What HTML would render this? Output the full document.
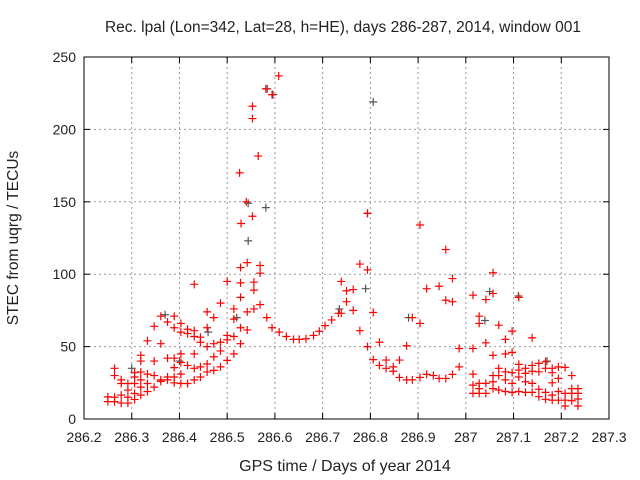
<!DOCTYPE html>
<html><head><meta charset="utf-8"><style>
body{margin:0;background:#fff;}
svg{display:block;font-family:"Liberation Sans",sans-serif;}
</style></head><body>
<svg id="chart" width="640" height="480" viewBox="0 0 640 480">
<rect width="640" height="480" fill="#fff"/>
<text x="343" y="32" font-size="15.5" text-anchor="middle" fill="#222">Rec. lpal (Lon=342, Lat=28, h=HE), days 286-287, 2014, window 001</text>
<g id="grid"></g>
<g id="ticks"></g>
<g id="gray"></g>
<g id="red"></g>
<rect x="84" y="57" width="525" height="362" fill="none" stroke="#000" stroke-width="1"/>
<text x="345" y="471" font-size="16" text-anchor="middle" fill="#222">GPS time / Days of year 2014</text>
<text transform="translate(18,238) rotate(-90)" font-size="15.5" text-anchor="middle" fill="#222">STEC from uqrg / TECUs</text>
</svg>
<script>
const xTicks=[286.2,286.3,286.4,286.5,286.6,286.7,286.8,286.9,287,287.1,287.2,287.3];
const xTickLabels=["286.2","286.3","286.4","286.5","286.6","286.7","286.8","286.9","287","287.1","287.2","287.3"];
const yTicks=[0,50,100,150,200,250];
const yTickLabels=["0","50","100","150","200","250"];
const grayX=[286.806,286.794,286.596,286.584,286.544,286.581,286.544,286.52,286.79,287.05,287.11,286.3,286.37,286.735,286.88,287.17,287.04,286.46,286.4];
const grayY=[219,142,224,228,149,146,123,70,90,88,85,35,72,76,70,40,68,60,40];
const redX=[286.25,286.25,286.264,286.264,286.278,286.278,286.264,286.264,286.278,286.278,286.292,286.292,286.292,286.292,286.306,286.306,286.306,286.306,286.306,286.319,286.319,286.319,286.319,286.319,286.319,286.333,286.333,286.333,286.333,286.347,286.347,286.347,286.347,286.361,286.361,286.361,286.361,286.375,286.375,286.375,286.375,286.389,286.389,286.389,286.389,286.389,286.389,286.403,286.403,286.403,286.403,286.403,286.403,286.417,286.417,286.417,286.417,286.431,286.431,286.431,286.431,286.431,286.431,286.444,286.444,286.444,286.444,286.458,286.458,286.458,286.458,286.458,286.472,286.472,286.472,286.472,286.486,286.486,286.486,286.486,286.5,286.5,286.5,286.5,286.514,286.514,286.514,286.514,286.528,286.528,286.528,286.528,286.528,286.542,286.542,286.542,286.556,286.556,286.556,286.569,286.569,286.569,286.583,286.594,286.609,286.624,286.639,286.651,286.665,286.681,286.693,286.705,286.719,286.733,286.608,286.581,286.594,286.553,286.553,286.565,286.526,286.54,286.553,286.529,
286.794,286.904,286.958,286.778,286.794,286.739,286.75,286.764,286.75,286.739,286.764,286.806,286.778,286.794,286.806,286.819,286.819,286.833,286.833,286.848,286.848,286.861,286.861,286.876,286.876,286.888,286.888,286.904,286.904,286.918,286.918,286.932,286.944,286.944,286.958,286.958,286.972,286.972,286.972,286.986,286.986,287.015,287.015,287.015,287.015,287.015,287.028,287.028,287.028,287.028,287.028,287.042,287.042,287.042,287.042,287.057,287.057,287.057,287.057,287.057,287.057,287.069,287.069,287.069,287.069,287.083,287.083,287.083,287.083,287.083,287.097,287.097,287.097,287.097,287.097,287.111,287.111,287.111,287.111,287.111,287.125,287.125,287.125,287.125,287.139,287.139,287.139,287.139,287.139,287.153,287.153,287.153,287.153,287.167,287.167,287.167,287.167,287.181,287.181,287.181,287.181,287.181,287.194,287.194,287.194,287.194,287.208,287.208,287.208,287.208,287.222,287.222,287.222,287.222,287.235,287.235,287.235,287.235];
const redY=[15.3,12,15,12,16.5,11,35,30,27,24.5,24.5,20,15,11,32,29,24.5,17.6,13.5,44,40,32.5,27,22,16.5,54,31,24.5,19,64,40,30,22,71,52,27,26,67,42,29,27,71,63,42,35.5,29,25,66,60,45,39,31,24.5,62,59,37,24.5,93,61,57,45,35,27,56.5,53,36,29,74,63,50,38,32.5,70,52,43,33.6,80,53,47,36,95,57.7,54.7,40.5,76,69,57,45,104.6,94,84,63,52,108,74,61.5,94.5,89,76,106,100.7,79,70,63,60,57,55,55,55.4,57.7,60.6,64.5,68.4,73,237,228,224,216,207.5,181.6,170,150,140,135,
142,134,117,107,103,95,88.5,89.4,81,73,75,73.6,61,50,41,53,37,40.7,35,36,33,40.7,28.7,50.6,27,70,27,66,28.7,90,30.8,30,91.7,28,82,28,97,81,30.8,48.7,36,85.5,48.7,31,23.4,17.7,71,66,24.6,21,17.7,82.5,52.6,24.6,17.7,101,86.7,44,30,25.7,21,64.8,35,30,20,55,45,32.6,27,19,60.7,46,32,24.6,18.4,84,37.7,33.8,29,19,35,31.5,25.7,18.4,56,37,33,24.6,18.4,38.4,32.6,20.5,15.4,39.5,35,18.4,13.6,35,32,25,16.5,13,36,28,19,13,35.6,17.7,13,9,30,21,17.7,12.6,21,17.7,13.8,9];
const X0=84,X1=609,Y0=419,Y1=57;
function xs(v){return X0+(v-286.2)/(287.3-286.2)*(X1-X0);}
function ys(v){return Y0-(v-0)/250*(Y0-Y1);}
const NS="http://www.w3.org/2000/svg";
function mk(tag,attrs,parent){const e=document.createElementNS(NS,tag);for(const k in attrs)e.setAttribute(k,attrs[k]);parent.appendChild(e);return e;}
const grid=document.getElementById('grid'),ticks=document.getElementById('ticks');
xTicks.forEach((t,i)=>{const x=xs(t);
 if(i>0&&i<xTicks.length-1){const g=mk('line',{x1:x,x2:x,y1:Y1,y2:Y0,stroke:'#999','stroke-dasharray':'2,3'},grid);
 
 }
 mk('line',{x1:x,x2:x,y1:Y0,y2:Y0-6,stroke:'#000'},ticks);
 mk('line',{x1:x,x2:x,y1:Y1,y2:Y1+6,stroke:'#000'},ticks);
 const l=mk('text',{x:x,y:442,'font-size':14,'text-anchor':'middle',fill:'#222'},ticks);
 l.textContent=xTickLabels[i];
 
 });
yTicks.forEach((t,i)=>{const y=ys(t);
 if(i>0&&i<yTicks.length-1){const g=mk('line',{x1:X0,x2:X1,y1:y,y2:y,stroke:'#999','stroke-dasharray':'2,3'},grid);
 
 }
 mk('line',{x1:X0,x2:X0+6,y1:y,y2:y,stroke:'#000'},ticks);
 mk('line',{x1:X1,x2:X1-6,y1:y,y2:y,stroke:'#000'},ticks);
 const l=mk('text',{x:76,y:y+5,'font-size':14,'text-anchor':'end',fill:'#222'},ticks);
 l.textContent=yTickLabels[i];
 
 });
function plus(g,x,y,c,name){const p=mk('path',{d:`M${x-4},${y}h8M${x},${y-4}v8`,stroke:c,'stroke-width':1.2,fill:'none'},g);
 
 }
const gg=document.getElementById('gray'),rg=document.getElementById('red');
grayX.forEach((v,i)=>plus(gg,xs(v),ys(grayY[i]),'#555','gray-point'));
redX.forEach((v,i)=>plus(rg,xs(v),ys(redY[i]),'#f00','red-point'));
</script>
</body></html>
